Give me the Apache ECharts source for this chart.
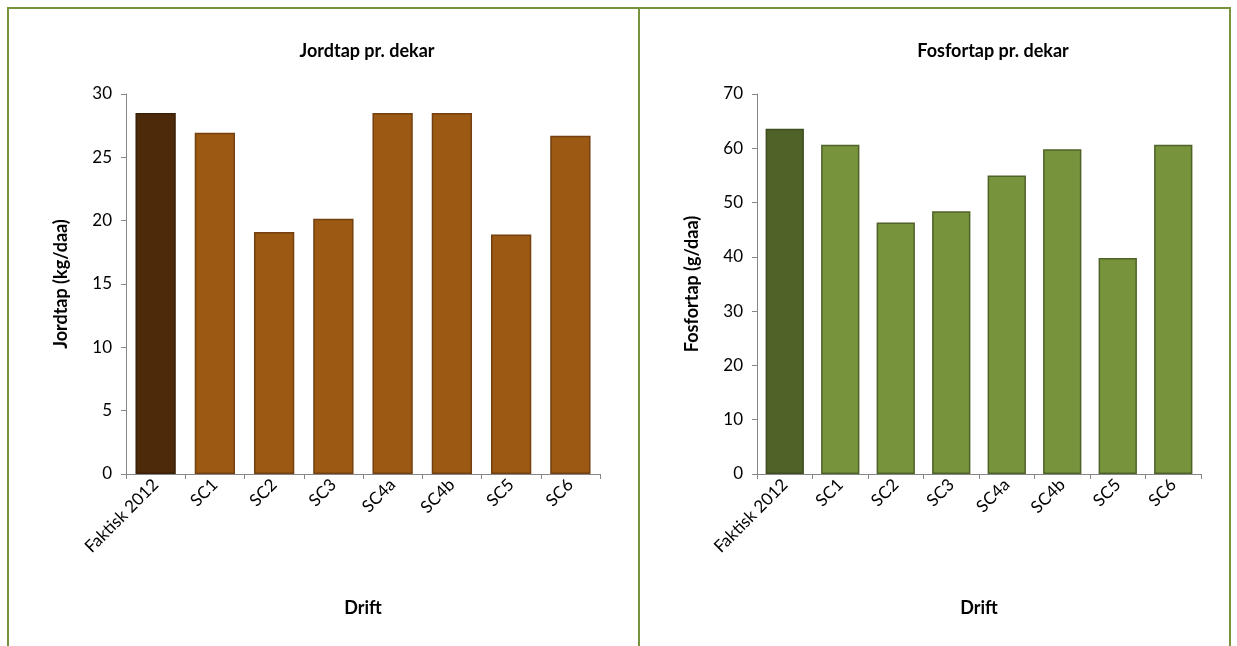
<!DOCTYPE html>
<html>
<head>
<meta charset="utf-8">
<script src="https://cdn.jsdelivr.net/npm/echarts@6/dist/echarts.min.js"></script>
<style>
  html, body { margin: 0; padding: 0; background: #fff; }
  #main { position: absolute; left: 0; top: 0; width: 1237px; height: 646px; }
  .ln { position: absolute; background: #77933C; }
</style>
</head>
<body>
<div id="main"></div>
<!-- tabellkanter -->
<div class="ln" style="left:7px;top:7px;width:1224px;height:2px"></div>
<div class="ln" style="left:7px;top:7px;width:2px;height:639px"></div>
<div class="ln" style="left:638px;top:7px;width:2px;height:639px"></div>
<div class="ln" style="left:1229px;top:7px;width:2px;height:639px"></div>
<script>
// data
var drift = ['Faktisk 2012', 'SC1', 'SC2', 'SC3', 'SC4a', 'SC4b', 'SC5', 'SC6'];
var jordtap = [28.5, 26.95, 19.1, 20.15, 28.5, 28.5, 18.9, 26.7];
var fosfortap = [63.6, 60.65, 46.35, 48.4, 55.0, 59.8, 39.8, 60.65];
var jordTicks = [0, 30, 5];
var fosforTicks = [0, 70, 10];

var font = 'Lato, "Open Sans", sans-serif';

function barData(vals, first, rest, firstBorder, restBorder) {
    var out = [];
    for (var i = 0; i < vals.length; i++) {
        out.push({
            value: vals[i],
            itemStyle: {
                color: i == 0 ? first : rest,
                borderColor: i == 0 ? firstBorder : restBorder,
                borderWidth: 1.5
            }
        });
    }
    return out;
}

function xAxis(idx) {
    return {
        type: 'category',
        gridIndex: idx,
        data: drift,
        name: 'Drift',
        nameLocation: 'middle',
        nameGap: 125,
        nameTextStyle: { fontFamily: font, fontWeight: 'bold', fontSize: 18, color: '#000' },
        axisLine: { lineStyle: { color: '#868686', width: 1 } },
        axisTick: { show: true, alignWithLabel: false, length: 5, lineStyle: { color: '#868686' } },
        axisLabel: { rotate: 45, interval: 0, fontFamily: font, fontSize: 17, color: '#000', margin: 8 }
    };
}

function yAxis(idx, name, t) {
    return {
        type: 'value',
        gridIndex: idx,
        min: t[0], max: t[1], interval: t[2],
        name: name,
        nameLocation: 'middle',
        nameGap: 56,
        nameRotate: 90,
        nameTextStyle: { fontFamily: font, fontWeight: 'bold', fontSize: 18, color: '#000' },
        axisLine: { show: true, lineStyle: { color: '#868686', width: 1 } },
        axisTick: { show: true, length: 5, lineStyle: { color: '#868686' } },
        axisLabel: { fontFamily: font, fontSize: 17, color: '#000', margin: 14 },
        splitLine: { show: false }
    };
}

var myChart = echarts.init(document.getElementById('main'));
var option = {
    animation: false,
    title: [
        { text: 'Jordtap pr. dekar', left: 362, top: 37, textAlign: 'center',
          textStyle: { fontFamily: font, fontWeight: 'bold', fontSize: 18, color: '#000' } },
        { text: 'Fosfortap pr. dekar', left: 988, top: 37, textAlign: 'center',
          textStyle: { fontFamily: font, fontWeight: 'bold', fontSize: 18, color: '#000' } }
    ],
    grid: [
        { left: 126, top: 94, width: 474, height: 380 },
        { left: 757, top: 94, width: 444, height: 380 }
    ],
    xAxis: [xAxis(0), xAxis(1)],
    yAxis: [yAxis(0, 'Jordtap (kg/daa)', jordTicks), yAxis(1, 'Fosfortap (g/daa)', fosforTicks)],
    series: [
        { type: 'bar', xAxisIndex: 0, yAxisIndex: 0, barCategoryGap: '32%',
          data: barData(jordtap, '#4D2A0A', '#9C5914', '#3B2008', '#74400F') },
        { type: 'bar', xAxisIndex: 1, yAxisIndex: 1, barCategoryGap: '31%',
          data: barData(fosfortap, '#4F6228', '#77933C', '#3E4E1F', '#4F6228') }
    ]
};
myChart.setOption(option);
</script>
</body>
</html>
